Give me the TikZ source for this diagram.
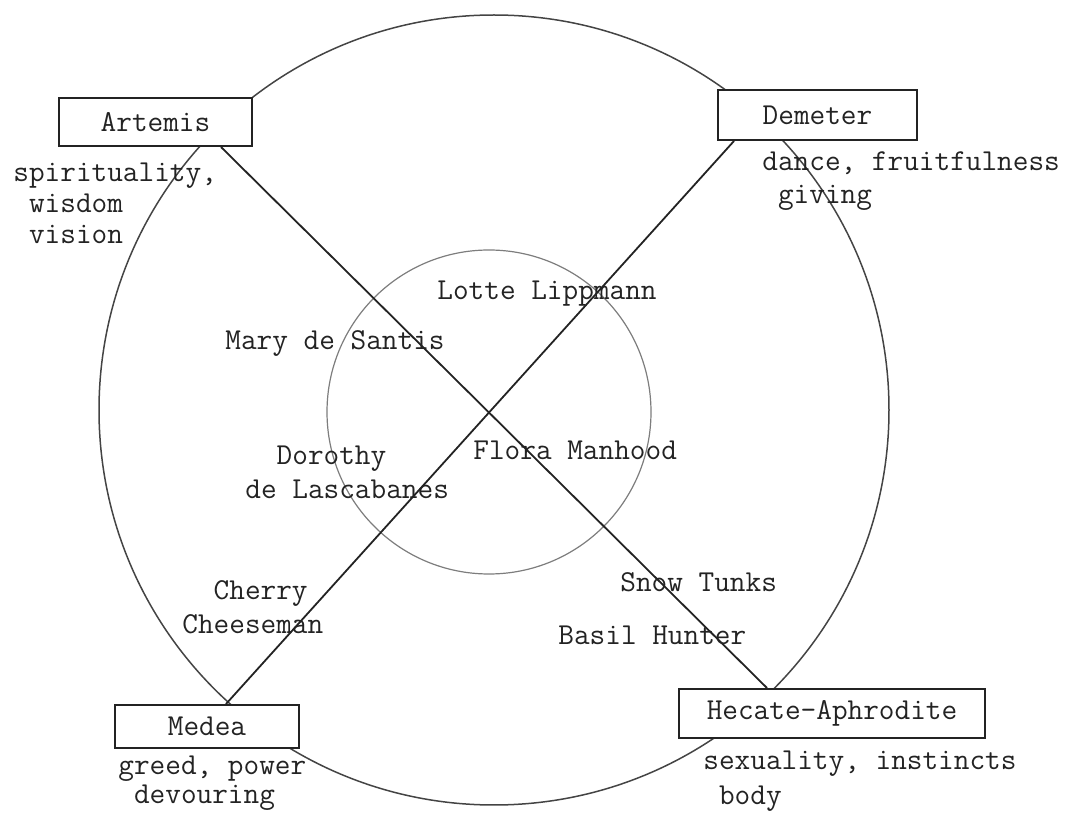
\documentclass[tikz,border=0pt]{standalone}
\definecolor{inkgrey}{RGB}{35,35,35}
\definecolor{pencilgrey}{RGB}{125,125,125}
\usepackage{tikz}
\usetikzlibrary{calc}

\begin{document}
\begin{tikzpicture}[x=0.5pt, y=-0.5pt,
    typed/.style={font=\fontsize{15.2}{16.5}\selectfont\ttfamily, text=inkgrey, inner sep=0pt},
    goddess/.style={typed, draw=inkgrey, line width=1pt, fill=white},
    axis/.style={draw=inkgrey, line width=0.9pt},
    ring/.style={draw=inkgrey!85, line width=0.75pt}]
    \useasboundingbox (0,0) rectangle (1073,818);

    % outer and inner rings
    \draw[ring] (494,410) circle[radius=197.5pt];
    \draw[ring, draw=pencilgrey, line width=0.6pt] (489,412) circle[radius=81pt];

    % the four goddesses
    \node[goddess, minimum width=96.5pt, minimum height=24pt] (artemis) at (155.5,122) {Artemis};
    \node[goddess, minimum width=99.5pt, minimum height=25pt] (demeter) at (817.5,115) {Demeter};
    \node[goddess, minimum width=92pt, minimum height=21.5pt] (medea) at (207,726.5) {Medea};
    \node[goddess, minimum width=153pt, minimum height=24.5pt] (hecate) at (832,713.5) {Hecate-Aphrodite};

    \draw[axis] ($(artemis.south west)+(163,0)$) -- ($(hecate.north west)+(89,0)$);
    \draw[axis] ($(demeter.south west)+(17,0)$) -- ($(medea.north west)+(112,0)$);

    % qualities
    \node[typed, anchor=north west, align=left] (artemisnote) at (13,163) {spirituality,\\[-1pt]\hphantom{x}wisdom\\[-1pt]\hphantom{x}vision};
    \node[typed, anchor=north west, align=left] (demeternote) at (762,151) {dance, fruitfulness\\\hphantom{x}giving};
    \node[typed, anchor=north west, align=left] (medeanote) at (118,756) {greed, power\\[-2pt]\hphantom{x}devouring};
    \node[typed, anchor=north west, align=left] (hecatenote) at (703,751) {sexuality, instincts\\[1pt]\hphantom{x}body};

    % people
    \node[typed, anchor=mid west] (lotte) at (437,295) {Lotte Lippmann};
    \node[typed, anchor=mid west] (mary) at (225,345) {Mary de Santis};
    \node[typed, anchor=north west, align=left] (dorothy) at (245,446) {\hphantom{xx}Dorothy\\[0.5pt]de Lascabanes};
    \node[typed, anchor=mid west] (flora) at (473,455) {Flora Manhood};
    \node[typed, anchor=north west, align=left] (cherry) at (182,580) {\hphantom{xx}Cherry\\[0.5pt]Cheeseman};
    \node[typed, anchor=mid west] (snow) at (620,587) {Snow Tunks};
    \node[typed, anchor=mid west] (basil) at (558,640) {Basil Hunter};
\end{tikzpicture}
\end{document}
